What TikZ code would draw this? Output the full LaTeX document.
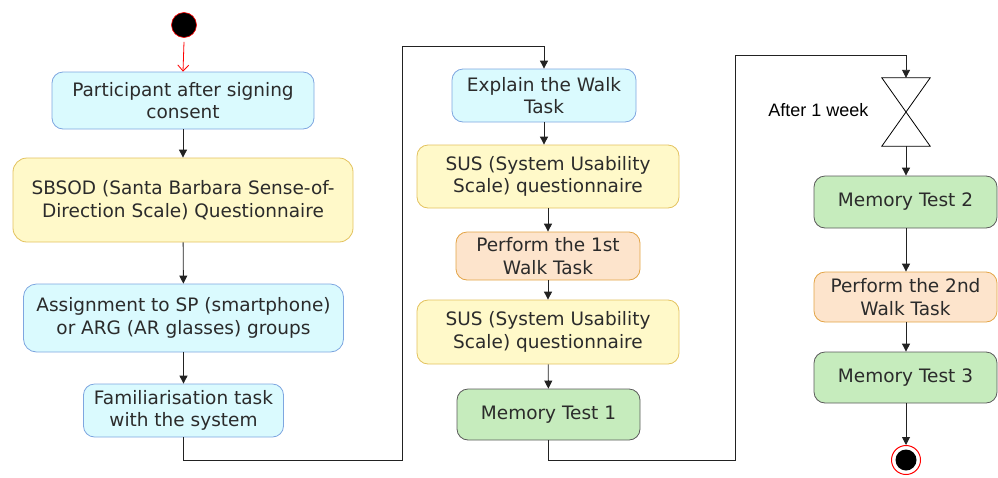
\documentclass[tikz,border=0pt]{standalone}
\usepackage{fontspec}
\setmainfont{DejaVu Sans}
\newfontfamily\arialfont{Liberation Sans}
\usetikzlibrary{arrows.meta}
\definecolor{cyfill}{HTML}{DAFAFE}
\definecolor{cyline}{HTML}{7EA6E0}
\definecolor{yefill}{HTML}{FFF9C9}
\definecolor{yeline}{HTML}{E3C25E}
\definecolor{orfill}{HTML}{FDE4CC}
\definecolor{orline}{HTML}{E3A446}
\definecolor{grfill}{HTML}{C6ECBD}
\definecolor{grline}{HTML}{5A5A5A}
\definecolor{txt}{HTML}{2B2B2B}
\definecolor{lin}{HTML}{222222}
\tikzset{
  box/.style={rectangle, rounded corners=11pt, line width=0.8pt, align=center,
    inner sep=0pt, text=txt, font=\fontsize{18.5}{22.5}\selectfont},
  cybox/.style={box, fill=cyfill, draw=cyline},
  yebox/.style={box, fill=yefill, draw=yeline},
  orbox/.style={box, fill=orfill, draw=orline},
  grbox/.style={box, fill=grfill, draw=grline},
  arr/.style={draw=lin, line width=0.9pt, -{Triangle[length=8pt,width=8pt]}},
}
\begin{document}
\begin{tikzpicture}[x=1pt,y=-1pt]
\useasboundingbox (0,0) rectangle (998,477);
% start
\node[circle, fill=black, draw=red, line width=0.6pt, minimum size=25pt, inner sep=0pt] (start) at (184,25) {};
% left column
\node[cybox, minimum width=262pt, minimum height=57pt] (n1) at (183,100.5) {Participant after signing\\consent};
\node[yebox, minimum width=340pt, minimum height=84pt, rounded corners=14pt] (n2) at (183,200) {SBSOD (Santa Barbara Sense-of-\\Direction Scale) Questionnaire};
\node[cybox, minimum width=320pt, minimum height=68pt, rounded corners=13pt] (n3) at (183.5,318) {Assignment to SP (smartphone)\\or ARG (AR glasses) groups};
\node[cybox, minimum width=200pt, minimum height=53pt] (n4) at (183.5,410.5) {Familiarisation task\\with the system};
% middle column
\node[cybox, minimum width=184pt, minimum height=53pt] (n5) at (544,95.5) {Explain the Walk\\Task};
\node[yebox, minimum width=262pt, minimum height=63pt] (n6) at (548,176.5) {SUS (System Usability\\Scale) questionnaire};
\node[orbox, minimum width=184pt, minimum height=48pt] (n7) at (548,256) {Perform the 1st\\Walk Task};
\node[yebox, minimum width=262pt, minimum height=64pt] (n8) at (548,332) {SUS (System Usability\\Scale) questionnaire};
\node[grbox, minimum width=183pt, minimum height=51pt] (n9) at (548.5,414.5) {Memory Test 1};
% right column
\node[minimum width=48pt, minimum height=68pt, inner sep=0pt] (hg) at (906,112) {};
\draw[draw=black, line width=0.8pt] (hg.north west) -- (hg.north east) -- (hg.south west) -- (hg.south east) -- cycle;
\node[text=black, font=\arialfont\fontsize{18}{21}\selectfont, anchor=east] (lbl) at (872,110) {After 1 week};
\node[grbox, minimum width=183pt, minimum height=52pt] (m2) at (905.5,202) {Memory Test 2};
\node[orbox, minimum width=183pt, minimum height=50pt] (p2) at (905.5,297) {Perform the 2nd\\Walk Task};
\node[grbox, minimum width=183pt, minimum height=51pt] (m3) at (905.5,377.5) {Memory Test 3};
\node[circle, fill=white, draw=red, line width=1pt, minimum size=29pt, inner sep=0pt] (end) at (906,460) {};
\node[circle, fill=black, minimum size=21pt, inner sep=0pt] (endin) at (end.center) {};
% connectors
\coordinate (k1) at (402,460);
\coordinate (k2) at (402,46);
\coordinate (k3) at (735,460);
\coordinate (k4) at (735,55);
\draw[draw=red, line width=0.8pt, -{Straight Barb[length=6pt,width=11pt]}] (start.south) ++(0,4) -- (n1.north);
\draw[arr] (n1) -- (n2);
\draw[arr] (n2) -- (n3);
\draw[arr] (n3) -- (n4);
\draw[arr] (n4.south) |- (k1) -- (k2) -| (n5.north);
\draw[arr] (n5.south) -- (n6.north -| n5.south);
\draw[arr] (n6) -- (n7);
\draw[arr] (n7) -- (n8);
\draw[arr] (n8) -- (n9);
\draw[arr] (n9.south) |- (k3) -- (k4) -| (hg.north);
\draw[arr] (hg.south) -- (m2.north -| hg.south);
\draw[arr] (m2.south -| hg.south) -- (p2.north -| hg.south);
\draw[arr] (p2.south -| hg.south) -- (m3.north -| hg.south);
\draw[arr] (m3.south -| hg.south) -- (end.north);
\end{tikzpicture}
\end{document}
